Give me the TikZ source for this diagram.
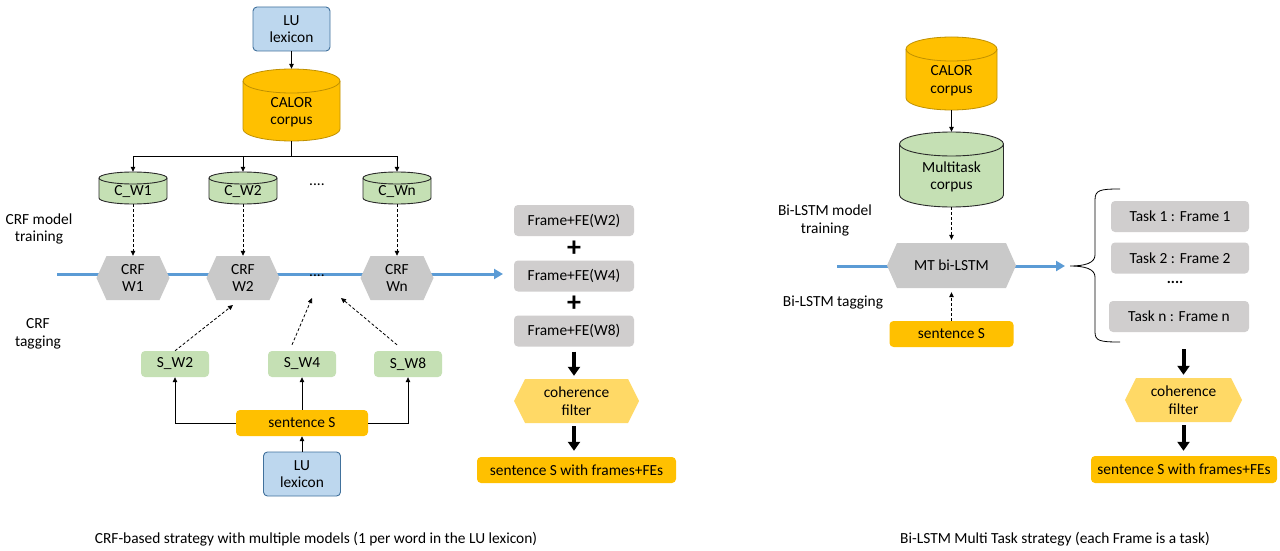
\documentclass[tikz,border=0pt]{standalone}
\usepackage{fontspec}
\setmainfont{Carlito}
\usetikzlibrary{arrows.meta,calc}
\definecolor{lublue}{HTML}{BDD7EE}
\definecolor{lustroke}{HTML}{41719C}
\definecolor{orng}{HTML}{FFC000}
\definecolor{orngd}{HTML}{BF9000}
\definecolor{grn}{HTML}{C5E0B4}
\definecolor{grnd}{HTML}{2A2A2A}
\definecolor{hexgray}{HTML}{C9C9C9}
\definecolor{boxgray}{HTML}{D0CECE}
\definecolor{yel}{HTML}{FFD966}
\definecolor{lineblue}{HTML}{5B9BD5}
\newcommand{\mycyl}[8]{%
  \path[#7] ({#2-#4/2},{#3-#5/2+#6}) -- ({#2-#4/2},{#3+#5/2-#6}) arc[start angle=180,end angle=0,x radius={#4/2},y radius=#6] -- ({#2+#4/2},{#3-#5/2+#6}) arc[start angle=0,end angle=-180,x radius={#4/2},y radius=#6] -- cycle;
  \path[#7,fill=none] ({#2-#4/2},{#3-#5/2+#6}) arc[start angle=180,end angle=0,x radius={#4/2},y radius=#6];
  \node[inner sep=0pt,minimum width=#4pt,minimum height=#5pt] (#1) at (#2,#3) {};
  \node[txt] (#1t) at (#2,{#3+0.6*#6}) {#8};
}
\newcommand{\myhex}[8]{%
  \fill[#7] ({#2-#4/2},#3) -- ({#2-#4/2+#6},{#3-#5/2}) -- ({#2+#4/2-#6},{#3-#5/2}) -- ({#2+#4/2},#3) -- ({#2+#4/2-#6},{#3+#5/2}) -- ({#2-#4/2+#6},{#3+#5/2}) -- cycle;
  \node[txt,minimum width=#4pt,minimum height=#5pt] (#1) at (#2,#3) {#8};
}
\begin{document}
\begin{tikzpicture}[x=1pt,y=-1pt,
  txt/.style={font=\fontsize{15.4}{17.5}\selectfont,align=center,inner sep=0pt},
  rbox/.style={txt,rounded corners=4pt},
  lubox/.style={rbox,fill=lublue,draw=lustroke,line width=0.9pt,minimum width=77pt,minimum height=44pt},
  gbox/.style={rbox,fill=grn,minimum width=68pt,minimum height=26pt},
  obox/.style={rbox,fill=orng,minimum height=26pt},
  graybox/.style={rbox,fill=boxgray,minimum height=31pt},
  arr/.style={-{Triangle[length=5pt,width=4.5pt]},line width=0.8pt},
  darr/.style={arr,dash pattern=on 3pt off 2pt},
  fat/.style={-{Triangle[length=9pt,width=12pt]},line width=4pt},
  bl/.style={-{Triangle[length=9pt,width=10pt]},line width=3pt,lineblue},
  cylo/.style={fill=orng,draw=orngd,line width=0.8pt},
  cylg/.style={fill=grn,draw=grnd,line width=0.9pt}]
\useasboundingbox (0,0) rectangle (1280,551);
\fill[white] (0,0) rectangle (1280,551);

% ===== left diagram =====
\node[lubox] (lu1) at (291.5,29) {LU\\lexicon};
\mycyl{calor1}{291.5}{105}{97}{72}{12}{cylo}{CALOR\\corpus}
\draw[arr] (lu1.south) -- (calor1.north);

\mycyl{cw1}{133}{188}{68}{32}{6}{cylg}{C\_W1}
\mycyl{cw2}{243}{188}{68}{32}{6}{cylg}{C\_W2}
\mycyl{cwn}{397}{188}{68}{32}{6}{cylg}{C\_Wn}
\node[txt] (dots1) at (317,185) {....};

\coordinate (fork) at (291.5,156);
\draw[line width=0.8pt] (calor1.south) -- (fork);
\draw[arr] (fork) -| (cw1.north);
\draw[arr] (fork) -| (cw2.north);
\draw[arr] (fork) -| (cwn.north);

\coordinate (bl1s) at (57,274);
\coordinate (bl1e) at (503,274);
\draw[bl] (bl1s) -- (bl1e);

\myhex{crf1}{133}{278}{73}{44}{10}{hexgray}{CRF\\W1}
\myhex{crf2}{243}{278}{73}{44}{10}{hexgray}{CRF\\W2}
\myhex{crfn}{397}{278}{73}{44}{10}{hexgray}{CRF\\Wn}
\node[txt] (dots2) at (317,276) {....};

\draw[darr] (cw1.south) -- (crf1.north);
\draw[darr] (cw2.south) -- (crf2.north);
\draw[darr] (cwn.south) -- (crfn.north);

\node[txt] (lbl1) at (39,229) {CRF model\\training};
\node[txt] (lbl2) at (38,334) {CRF\\tagging};

\node[gbox] (sw2) at (175,364) {S\_W2};
\node[gbox] (sw4) at (302,364) {S\_W4};
\node[gbox] (sw8) at (408,364) {S\_W8};
\node[obox,minimum width=132pt] (sent1) at (302,423) {sentence S};
\node[lubox] (lu2) at (302,474) {LU\\lexicon};

\draw[arr] (lu2.north) -- (sent1.south);
\draw[arr] (sent1.west) -| (sw2.south);
\draw[arr] (sent1.east) -| (sw8.south);
\draw[arr] (sent1.north) -- (sw4.south);

\coordinate (t2) at (233,305);
\coordinate (t4) at (312,298);
\coordinate (t8) at (341,298);
\draw[darr] (sw2.north) -- (t2);
\draw[darr] ($(sw4.north)+(-10,-6)$) -- (t4);
\draw[darr] ($(sw8.north)+(-11,-6)$) -- (t8);

\node[graybox,minimum width=120pt] (f2) at (574,220.5) {Frame+FE(W2)};
\node[txt,font=\fontsize{28}{28}\selectfont\bfseries] (p1) at (574,249) {+};
\node[graybox,minimum width=120pt] (f4) at (574,276) {Frame+FE(W4)};
\node[txt,font=\fontsize{28}{28}\selectfont\bfseries] (p2) at (574,304) {+};
\node[graybox,minimum width=120pt] (f8) at (574,331) {Frame+FE(W8)};
\myhex{coh1}{576.5}{401}{125}{44}{11}{yel}{coherence\\filter}
\node[obox,minimum width=199pt,minimum height=26pt] (out1) at (576.5,470) {sentence S with frames+FEs};
\draw[fat,shorten <=5pt,shorten >=3pt] (f8.south) -- (f8.south |- coh1.north);
\draw[fat,shorten <=3pt,shorten >=6pt] (f8.south |- coh1.south) -- (f8.south |- out1.north);

\node[txt] (cap1) at (316,539) {CRF-based strategy with multiple models (1 per word in the LU lexicon)};

% ===== right diagram =====
\mycyl{calor2}{951.5}{73.5}{91}{73}{12}{cylo}{CALOR\\corpus}
\mycyl{mtc}{951.5}{169.5}{104}{75}{12}{cylg}{Multitask\\corpus}
\draw[arr] (calor2.south) -- (mtc.north);

\coordinate (bl2s) at (837,266);
\coordinate (bl2e) at (1065,266);
\draw[bl] (bl2s) -- (bl2e);
\myhex{mt}{951.5}{265.5}{129}{45}{10}{hexgray}{MT bi-LSTM}
\draw[darr,shorten >=3pt] (mtc.south) -- (mt.north);

\node[obox,minimum width=124pt] (sent2) at (951.5,334) {sentence S};
\draw[darr,shorten >=4pt] (sent2.north) -- (mt.south);

\node[txt] (lbl3) at (825,220.5) {Bi-LSTM model\\training};
\node[txt] (lbl4) at (833,303) {Bi-LSTM tagging};

\draw[line width=0.8pt] (1120,189) .. controls (1100,189) and (1095,190) .. (1095,200) -- (1095,255) .. controls (1095,263) and (1085,266) .. (1070,266) .. controls (1085,266) and (1095,269) .. (1095,277) -- (1095,332) .. controls (1095,341) and (1100,342) .. (1120,342);

\node[graybox,minimum width=138pt] (task1) at (1180,216.5) {Task 1 : Frame 1};
\node[graybox,minimum width=138pt] (task2) at (1180,258) {Task 2 : Frame 2};
\node[txt,font=\fontsize{15.4}{17.5}\selectfont\bfseries] (dots3) at (1175,282) {....};
\node[graybox,minimum width=140pt] (taskn) at (1179,316.5) {Task n : Frame n};
\myhex{coh2}{1183.5}{400}{117}{44}{11}{yel}{coherence\\filter}
\node[obox,minimum width=186pt,minimum height=27pt] (out2) at (1184,469.5) {sentence S with frames+FEs};
\draw[fat,shorten <=17pt,shorten >=3pt] (coh2.north |- taskn.south) -- (coh2.north);
\draw[fat,shorten <=3pt,shorten >=5pt] (coh2.south) -- (coh2.south |- out2.north);

\node[txt] (cap2) at (1055,539) {Bi-LSTM Multi Task strategy (each Frame is a task)};
\end{tikzpicture}
\end{document}
